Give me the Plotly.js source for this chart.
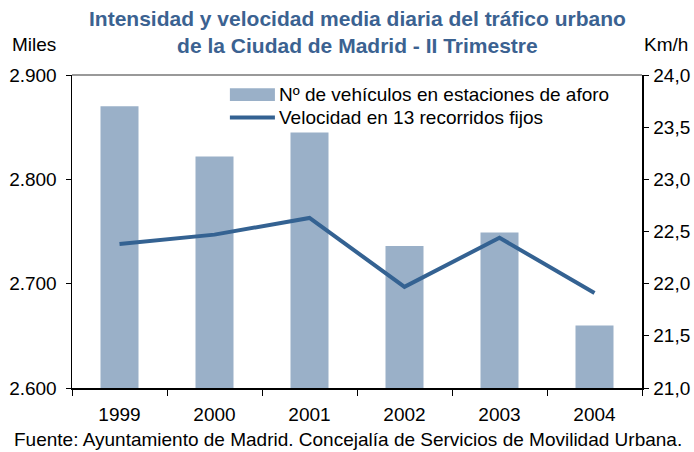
<!DOCTYPE html>
<html>
<head>
<meta charset="utf-8">
<script src="https://cdn.plot.ly/plotly-3.0.1.min.js"></script>
<style>
  html, body { margin: 0; padding: 0; background: #fff; }
  #chart { width: 694px; height: 452px; }
</style>
</head>
<body>
<div id="chart"></div>
<script>
var years = ['1999', '2000', '2001', '2002', '2003', '2004'];
var vehiculos = [2870, 2822, 2845, 2736, 2749, 2660];
var velocidad = [22.38, 22.47, 22.63, 21.97, 22.44, 21.91];

var nameBars = 'Nº de vehículos en estaciones de aforo';
var nameLine = 'Velocidad en 13 recorridos fijos';

var barColor = 'rgb(154,176,200)';
var lineColor = 'rgb(52,98,146)';
var fontFam = 'Liberation Sans, Arial, sans-serif';

var trace1 = {
  x: years,
  y: vehiculos,
  name: nameBars,
  type: 'bar',
  marker: { color: barColor },
  yaxis: 'y',
  hoverinfo: 'skip'
};

var trace2 = {
  x: years,
  y: velocidad,
  name: nameLine,
  type: 'scatter',
  mode: 'lines',
  line: { color: lineColor, width: 4 },
  yaxis: 'y2',
  hoverinfo: 'skip'
};

var data = [trace1, trace2];

var layout = {
  width: 694,
  height: 452,
  margin: { l: 72, r: 52, t: 75, b: 64 },
  paper_bgcolor: '#fff',
  plot_bgcolor: '#fff',
  separators: ',.',
  showlegend: false,
  bargap: 0.6,
  font: { family: fontFam, size: 19, color: '#000' },
  xaxis: {
    type: 'category',
    range: [-0.5, 5.5],
    showline: true, linecolor: '#000', linewidth: 1.5,
    ticks: 'outside', tickson: 'boundaries', ticklen: 6, tickcolor: '#000',
    ticklabelstandoff: 9,
    showgrid: false, zeroline: false,
    tickfont: { size: 19 }
  },
  yaxis: {
    range: [2600, 2900],
    tickvals: [2600, 2700, 2800, 2900],
    tickformat: ',d',
    showline: true, linecolor: '#000', linewidth: 1.5,
    ticks: 'outside', ticklen: 5, tickcolor: '#000',
    ticklabelstandoff: 5,
    showgrid: false, zeroline: false,
    tickfont: { size: 19 }
  },
  yaxis2: {
    overlaying: 'y',
    side: 'right',
    range: [21, 24],
    tickvals: [21, 21.5, 22, 22.5, 23, 23.5, 24],
    tickformat: '.1f',
    showline: true, linecolor: '#000', linewidth: 1.5,
    ticks: 'outside', ticklen: 5, tickcolor: '#000',
    ticklabelstandoff: 1,
    showgrid: false, zeroline: false,
    tickfont: { size: 19 }
  },
  shapes: [
    // top border
    { type: 'line', xref: 'paper', yref: 'paper', x0: 0, x1: 1, y0: 1, y1: 1,
      line: { color: '#999', width: 2 } },
    // legend symbols
    { type: 'rect', xref: 'paper', yref: 'paper', x0: 0.277, x1: 0.356, y0: 0.917, y1: 0.958,
      fillcolor: barColor, line: { width: 0 } },
    { type: 'line', xref: 'paper', yref: 'paper', x0: 0.277, x1: 0.356, y0: 0.864, y1: 0.864,
      line: { color: lineColor, width: 4 } }
  ],
  annotations: [
    { text: '<b>Intensidad y velocidad media diaria del tráfico urbano<br>de la Ciudad de Madrid - II Trimestre</b>',
      xref: 'paper', yref: 'paper', x: 0.5, y: 1.136,
      xanchor: 'center', yanchor: 'middle', showarrow: false,
      font: { size: 21, color: 'rgb(59,98,145)' } },
    { text: nameBars, xref: 'paper', yref: 'paper', x: 0.360, y: 0.939,
      xanchor: 'left', yanchor: 'middle', showarrow: false, font: { size: 19 } },
    { text: nameLine, xref: 'paper', yref: 'paper', x: 0.360, y: 0.863,
      xanchor: 'left', yanchor: 'middle', showarrow: false, font: { size: 19 } },
    { text: 'Miles', xref: 'paper', yref: 'paper', x: -0.109, y: 1.096,
      xanchor: 'left', yanchor: 'middle', showarrow: false, font: { size: 19 } },
    { text: 'Km/h', xref: 'paper', yref: 'paper', x: 1.084, y: 1.096,
      xanchor: 'right', yanchor: 'middle', showarrow: false, font: { size: 19 } },
    { text: 'Fuente: Ayuntamiento de Madrid. Concejalía de Servicios de Movilidad Urbana.',
      xref: 'paper', yref: 'paper', x: -0.105, y: -0.166,
      xanchor: 'left', yanchor: 'middle', showarrow: false, font: { size: 19 } }
  ]
};

Plotly.newPlot('chart', data, layout, { staticPlot: true, displayModeBar: false });
</script>
</body>
</html>
